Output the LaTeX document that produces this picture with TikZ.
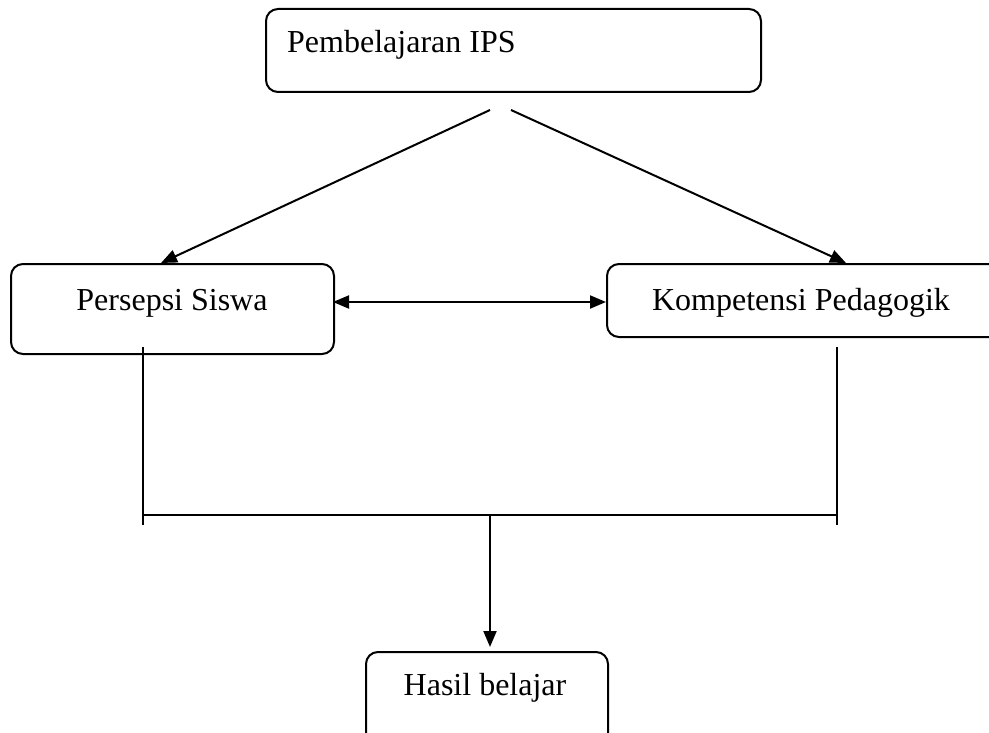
\documentclass[tikz,border=0pt]{standalone}
\usepackage{fontspec}
\setmainfont{Liberation Serif}
\usetikzlibrary{arrows.meta}
\begin{document}
\begin{tikzpicture}[x=1pt,y=-1pt,
  box/.style={draw, line width=2pt, rounded corners=12pt, inner sep=0pt, anchor=north west},
  lbl/.style={font=\fontsize{32}{38}\selectfont, inner sep=0pt},
  conn/.style={line width=2pt},
  arr/.style={conn, -{Triangle[length=16pt,width=13pt]}},
  darr/.style={conn, {Triangle[length=16pt,width=13pt]}-{Triangle[length=16pt,width=13pt]}}]
\useasboundingbox (0,0) rectangle (989,733);
\clip (0,0) rectangle (989,733);
% boxes
\node[box, minimum width=495pt, minimum height=83pt] (top) at (265,8) {};
\node[lbl, anchor=base west] (toptxt) at (287,53) {Pembelajaran IPS};
\node[box, minimum width=323pt, minimum height=90pt] (ps) at (10,263) {};
\node[lbl, anchor=base] (pstxt) at (172,310) {Persepsi Siswa};
\node[box, minimum width=400pt, minimum height=73pt] (kp) at (606,263) {};
\node[lbl, anchor=base] (kptxt) at (801,310) {Kompetensi Pedagogik};
\node[box, minimum width=242pt, minimum height=100pt] (hb) at (365,651) {};
\node[lbl, anchor=base] (hbtxt) at (485,695) {Hasil belajar};
% coordinates
\coordinate (tl) at (490,110);
\coordinate (tr) at (511,110);
\coordinate (psin) at (161,263);
\coordinate (kpin) at (846,263);
\coordinate (da) at (333,302);
\coordinate (db) at (606,302);
\coordinate (lv1) at (143,347);
\coordinate (lv2) at (143,525);
\coordinate (rv1) at (837,347);
\coordinate (rv2) at (837,525);
\coordinate (hl) at (143,515);
\coordinate (hr) at (837,515);
\coordinate (hm) at (490,515);
\coordinate (hbin) at (490,647);
% connectors
\draw[arr] (tl) -- (psin);
\draw[arr] (tr) -- (kpin);
\draw[darr] (da) -- (db);
\draw[conn] (lv1) -- (lv2);
\draw[conn] (rv1) -- (rv2);
\draw[conn] (hl) -- (hr);
\draw[arr] (hm) -- (hbin);
\end{tikzpicture}
\end{document}
